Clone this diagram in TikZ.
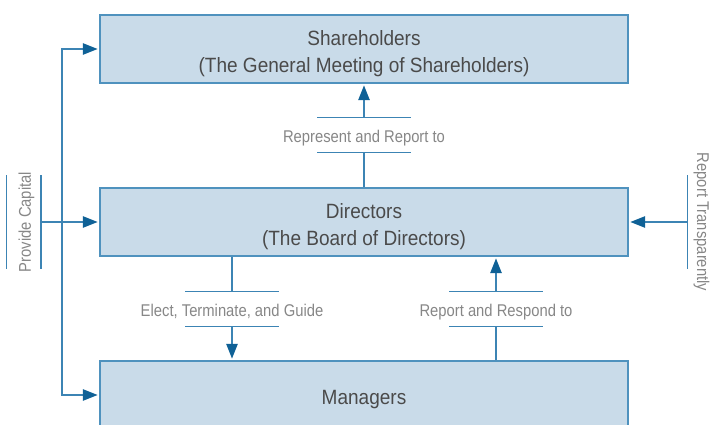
\documentclass[tikz,border=0pt]{standalone}
\usepackage{fontspec}
\setmainfont{Liberation Sans}
\newfontfamily\boxfont{Liberation Sans}[FakeStretch=0.92]
\newfontfamily\labelfont{Liberation Sans}[FakeStretch=0.87]
\usetikzlibrary{arrows.meta,calc}
\definecolor{boxfill}{HTML}{C9DBE9}
\definecolor{boxline}{HTML}{4F92BE}
\definecolor{linkblue}{HTML}{3C84B4}
\definecolor{tipblue}{HTML}{0F6196}
\definecolor{boxtext}{HTML}{4A4A4A}
\definecolor{labeltext}{HTML}{878787}
\newcommand{\topstrut}{\rule{0pt}{18pt}}
\tikzset{
	party/.style={draw=boxline, line width=1.2pt, fill=boxfill, text=boxtext,
		minimum width=396pt, minimum height=51pt, align=center, inner sep=0pt,
		font=\boxfont\fontsize{15.5}{20.5}\selectfont},
	bracket/.style={minimum height=25.5pt, inner sep=0pt, text height=11pt, text depth=0pt,
		text=labeltext, font=\labelfont\fontsize{12.75}{14}\selectfont},
	link/.style={draw=linkblue, line width=1.1pt},
	arrowed/.style={-{Triangle[length=11pt,width=8.5pt,color=tipblue]}, shorten >=1.2pt},
	twoway/.style={{Triangle[length=11pt,width=8.5pt,color=tipblue]}-{Triangle[length=11pt,width=8.5pt,color=tipblue]},
		shorten >=1.2pt, shorten <=1.2pt}
}
\begin{document}
\begin{tikzpicture}[x=0.75pt,y=-0.75pt]
		\useasboundingbox (0,0) rectangle (716,424);
		\clip (0,0) rectangle (716,424);
		% the three boxes
		\node[party] (share) at (364,49) {\topstrut Shareholders\\(The General Meeting of Shareholders)};
		\node[party] (dir) at (364,222) {\topstrut Directors\\(The Board of Directors)};
		\node[party] (mgr) at (364,395) {\topstrut Managers};
		% labels between two short lines
		\node[bracket] (rep) at (364,135) {Represent and Report to};
		\node[bracket] (elect) at (232,309) {Elect, Terminate, and Guide};
		\node[bracket] (resp) at (496,309) {Report and Respond to};
		\node[bracket, rotate=90] (cap) at (23.5,222) {Provide Capital};
		\node[bracket, rotate=-90] (transp) at (704.5,222) {Report Transparently};
		\foreach \b in {rep,elect,resp} {
			\draw[link] ($(\b.north)+(-47,0)$) -- ++(94,0);
			\draw[link] ($(\b.south)+(-47,0)$) -- ++(94,0);
		}
		\foreach \b in {cap,transp} {
			\draw[link] ($(\b.north)+(0,-47)$) -- ++(0,94);
			\draw[link] ($(\b.south)+(0,-47)$) -- ++(0,94);
		}
		% connectors
		\coordinate (bus) at (62,222);
		\draw[link] (dir.north) -- (rep.south);
		\draw[link, arrowed] (rep.north) -- (share.south);
		\draw[link] (elect.north |- dir.south) -- (elect.north);
		\draw[link, arrowed] (elect.south) -- (elect.south |- mgr.north);
		\draw[link] (resp.south |- mgr.north) -- (resp.south);
		\draw[link, arrowed] (resp.north) -- (resp.north |- dir.south);
		\draw[link, arrowed] (cap.south) -- (dir.west);
		\draw[link, twoway] (share.west) -| (bus) |- (mgr.west);
		\draw[link, arrowed] (transp.south) -- (dir.east);
	\end{tikzpicture}
\end{document}
